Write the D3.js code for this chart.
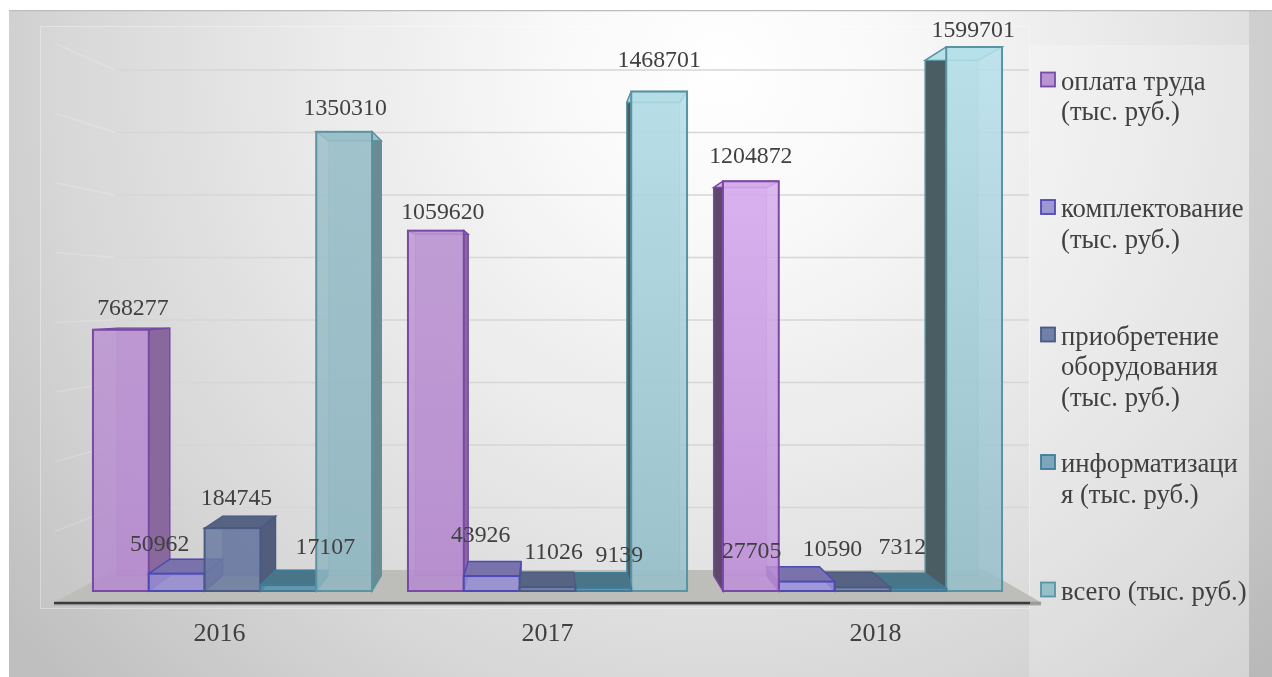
<!DOCTYPE html>
<html lang="ru">
<head>
<meta charset="utf-8">
<title>Расходы</title>
<script src="https://cdn.jsdelivr.net/npm/d3@7"></script>
<style>
  html, body { margin: 0; padding: 0; background: #fff; overflow: hidden; }
  svg { display: block; }
  text { font-family: "Liberation Serif", "Times New Roman", serif; fill: #404040; }
</style>
</head>
<body>
<div id="chart"></div>
<script>
// Data
const years = ['2016', '2017', '2018'];
const seriesNames = ['оплата труда', 'комплектование', 'приобретение оборудования', 'информатизация', 'всего'];
const payroll = [768277, 1059620, 1204872];
const stock = [50962, 43926, 27705];
const equipment = [184745, 11026, 10590];
const informatization = [17107, 9139, 7312];
const total = [1350310, 1468701, 1599701];
const gridValues = [0, 200000, 400000, 600000, 800000, 1000000, 1200000, 1400000, 1600000];
const legendLines = [
  ['оплата труда', '(тыс. руб.)'],
  ['комплектование', '(тыс. руб.)'],
  ['приобретение', 'оборудования', '(тыс. руб.)'],
  ['информатизаци', 'я (тыс. руб.)'],
  ['всего (тыс. руб.)'],
];

const seriesValues = [payroll, stock, equipment, informatization, total];

// Colours per series
const topColors = ['#dfb6f4', '#aaa2ea', '#7e8eb8', '#6ea6c0', '#b6e0ea'];
const bottomColors = ['#bd90d8', '#9b92dc', '#7080a8', '#5e95ae', '#96bec9'];
const strokeColors = ['#7a4aa6', '#4e49b5', '#4a5a85', '#3f7c99', '#5a93a2'];
const legendFills = ['#b795d3', '#9c97d2', '#6f80a8', '#7ea6bb', '#96c0c8'];

// Hand placed label offsets from the top centre of each bar [series][year]
const labelDx = [[12, 7, 0], [-17, -11, -55], [4, 6, -30], [37, 16, -16], [1, 0, -1]];
const labelDy = [[-15, -12, -18], [-23, -34, -24], [-23, -28, -31], [-31, -26, -35], [-17, -25, -10]];

const width = 1272;
const height = 677;

const svg = d3.select('#chart').append('svg')
  .attr('width', width)
  .attr('height', height);

const defs = svg.append('defs');

const bgGrad = defs.append('radialGradient')
  .attr('id', 'bg')
  .attr('gradientUnits', 'userSpaceOnUse')
  .attr('cx', 720).attr('cy', 70).attr('r', 900);
[[0, '#ffffff'], [0.2, '#f8f8f8'], [0.45, '#e9e9e9'], [0.7, '#d8d8d8'], [1, '#bfbfbf']].forEach((s) => {
  bgGrad.append('stop').attr('offset', s[0]).attr('stop-color', s[1]);
});

defs.append('filter').attr('id', 'soft')
  .attr('x', 0).attr('y', 0).attr('width', 1).attr('height', 1)
  .attr('filterUnits', 'objectBoundingBox')
  .append('feGaussianBlur').attr('stdDeviation', 0.45);

// Two sets of front gradients: the left part of the picture is duller
const addFrontGradient = (id, top, bottom) => {
  const g = defs.append('linearGradient')
    .attr('id', id)
    .attr('gradientUnits', 'userSpaceOnUse')
    .attr('x1', 0).attr('x2', 0).attr('y1', 47).attr('y2', 591);
  g.append('stop').attr('offset', 0).attr('stop-color', top);
  g.append('stop').attr('offset', 1).attr('stop-color', bottom);
};
seriesNames.forEach((name, i) => {
  addFrontGradient('front' + i, topColors[i], bottomColors[i]);
  addFrontGradient('dull' + i, d3.color(topColors[i]).darker(0.4), d3.color(bottomColors[i]).darker(0.12));
});

const root = svg.append('g').attr('filter', 'url(#soft)');

// Background panel
root.append('rect').attr('x', 9).attr('y', 10).attr('width', width - 9).attr('height', height - 10)
  .attr('fill', 'url(#bg)');
root.append('line').attr('x1', 9).attr('x2', width).attr('y1', 10.5).attr('y2', 10.5)
  .attr('stroke', '#bdbdbd').attr('stroke-width', 1.5);
root.append('rect').attr('x', 40.5).attr('y', 26.5).attr('width', 989).attr('height', 582)
  .attr('fill', '#fff').attr('fill-opacity', 0.05)
  .attr('stroke', '#fff').attr('stroke-opacity', 0.35);
root.append('rect').attr('x', 1029).attr('y', 45).attr('width', 220).attr('height', height - 45)
  .attr('fill', '#fff').attr('fill-opacity', 0.22);
root.append('rect').attr('x', 1249).attr('y', 11).attr('width', 23).attr('height', height - 11)
  .attr('fill', '#000').attr('fill-opacity', 0.07);

// Scales
const x0 = d3.scaleBand().domain(years).range([75, 1020]).paddingInner(0.114).paddingOuter(0.057);
const x1 = d3.scaleBand().domain(d3.range(seriesNames.length)).range([0, x0.bandwidth()]);
const y = d3.scaleLinear().domain([0, 1599701]).range([591, 47]);
const wallY = d3.scaleLinear().domain([0, 1600000]).range([570, 70]);
const xLabels = d3.scalePoint().domain(years).range([219, 875]);
const legendY = d3.scalePoint().domain(d3.range(seriesNames.length)).range([79.5, 589.5]);

// Perspective of the 3D box: the back of a bar shrinks towards this point
const vpX = 547;
const vpY = 300;
const shrink = 0.9472;
const back = (p) => [vpX + (p[0] - vpX) * shrink, vpY + (p[1] - vpY) * shrink];

// Gridlines on the back wall and the side wall
const wall = root.append('g');
wall.selectAll('.grid').data(gridValues.slice(1)).join('line')
  .attr('class', 'grid')
  .attr('x1', 115).attr('x2', 1029)
  .attr('y1', (d) => wallY(d)).attr('y2', (d) => wallY(d))
  .attr('stroke', '#d6d6d6').attr('stroke-width', 1.5);
wall.selectAll('.side-grid').data(gridValues.slice(1)).join('line')
  .attr('class', 'side-grid')
  .attr('x1', 55).attr('x2', 115)
  .attr('y1', (d) => wallY(d) + 0.116 * (wallY(d) - vpY)).attr('y2', (d) => wallY(d))
  .attr('stroke', '#fff').attr('stroke-opacity', 0.18).attr('stroke-width', 1.5);

// Floor
root.append('polygon')
  .attr('points', [[53, 603], [1042, 603], [985, wallY(0)], [115, wallY(0)]].join(' '))
  .attr('fill', '#bdbdb9');
root.append('line').attr('x1', 54).attr('x2', 1041).attr('y1', 604.5).attr('y2', 604.5)
  .attr('stroke', '#a8a8a8').attr('stroke-width', 2);
root.append('line').attr('x1', 54).attr('x2', 1030).attr('y1', 603).attr('y2', 603)
  .attr('stroke', '#3a3a3a').attr('stroke-width', 2.6);
root.append('line').attr('x1', 1030).attr('x2', 1041).attr('y1', 603).attr('y2', 603)
  .attr('stroke', '#9a9a9a').attr('stroke-width', 2.6);

// Bars: flat list, painted from the outside towards the vanishing point
const bars = [];
years.forEach((year, yi) => {
  seriesValues.forEach((values, si) => {
    bars.push({
      year, yi, si,
      value: values[yi],
      x: x0(year) + x1(si),
      w: x1.bandwidth(),
    });
  });
});
bars.sort((a, b) => Math.abs(b.x + b.w / 2 - vpX) - Math.abs(a.x + a.w / 2 - vpX));

const toPoints = (pts) => pts.map((p) => p.join(',')).join(' ');

const barGroups = root.append('g').selectAll('g').data(bars).join('g');

barGroups.each(function (d) {
  const g = d3.select(this);
  const top = y(d.value);
  const base = y(0);
  const fTL = [d.x, top];
  const fTR = [d.x + d.w, top];
  const fBL = [d.x, base];
  const fBR = [d.x + d.w, base];
  const bTL = back(fTL);
  const bTR = back(fTR);
  const bBL = back(fBL);
  const bBR = back(fBR);
  const stroke = strokeColors[d.si];
  const rightOfCentre = d.x + d.w / 2 > vpX;
  const sideColor = d3.color(bottomColors[d.si]).darker(rightOfCentre ? 2 : 0.9);
  const fill = d.x < 600 ? `url(#dull${d.si})` : `url(#front${d.si})`;

  // back face
  g.append('polygon').attr('points', toPoints([bTL, bTR, bBR, bBL]))
    .attr('fill', fill).attr('fill-opacity', 0.6)
    .attr('stroke', stroke).attr('stroke-opacity', 0.35);
  // side face
  const side = rightOfCentre ? [fTL, bTL, bBL, fBL] : [fTR, bTR, bBR, fBR];
  g.append('polygon').attr('points', toPoints(side))
    .attr('fill', sideColor)
    .attr('stroke', stroke).attr('stroke-width', 1.4);
  // top face: tall bars rise above eye level, so their top is seen from below and stays light
  g.append('polygon').attr('points', toPoints([fTL, fTR, bTR, bTL]))
    .attr('fill', top < vpY ? fill : d3.color(bottomColors[d.si]).darker(0.7))
    .attr('stroke', stroke).attr('stroke-width', 1.4);
  // front face
  g.append('rect')
    .attr('x', d.x).attr('y', top).attr('width', d.w).attr('height', base - top)
    .attr('fill', fill).attr('fill-opacity', 0.85)
    .attr('stroke', stroke).attr('stroke-width', 2);
});

// Value labels
root.append('g').selectAll('text').data(bars).join('text')
  .attr('x', (d) => d.x + d.w / 2 + labelDx[d.si][d.yi])
  .attr('y', (d) => y(d.value) + labelDy[d.si][d.yi])
  .attr('text-anchor', 'middle')
  .attr('font-size', 23.8)
  .text((d) => d.value);

// Category axis
const axis = root.append('g')
  .attr('transform', 'translate(0,603)')
  .call(d3.axisBottom(xLabels).tickSize(0).tickPadding(19.5));
axis.select('.domain').remove();
axis.selectAll('text')
  .attr('font-size', 26)
  .style('font-family', '"Liberation Serif", serif')
  .style('fill', '#404040');

// Legend
const legend = root.append('g').selectAll('g').data(legendLines).join('g')
  .attr('transform', (d, i) => `translate(1041,${legendY(i)})`);
legend.append('rect')
  .attr('x', 0).attr('y', -7).attr('width', 14).attr('height', 14)
  .attr('fill', (d, i) => legendFills[i])
  .attr('stroke', (d, i) => strokeColors[i])
  .attr('stroke-width', 1.8);
legend.each(function (lines) {
  const t = d3.select(this).append('text').attr('font-size', 26.7);
  lines.forEach((line, i) => {
    t.append('tspan').attr('x', 20).attr('y', 10 + i * 30.7).text(line);
  });
});
</script>
</body>
</html>
